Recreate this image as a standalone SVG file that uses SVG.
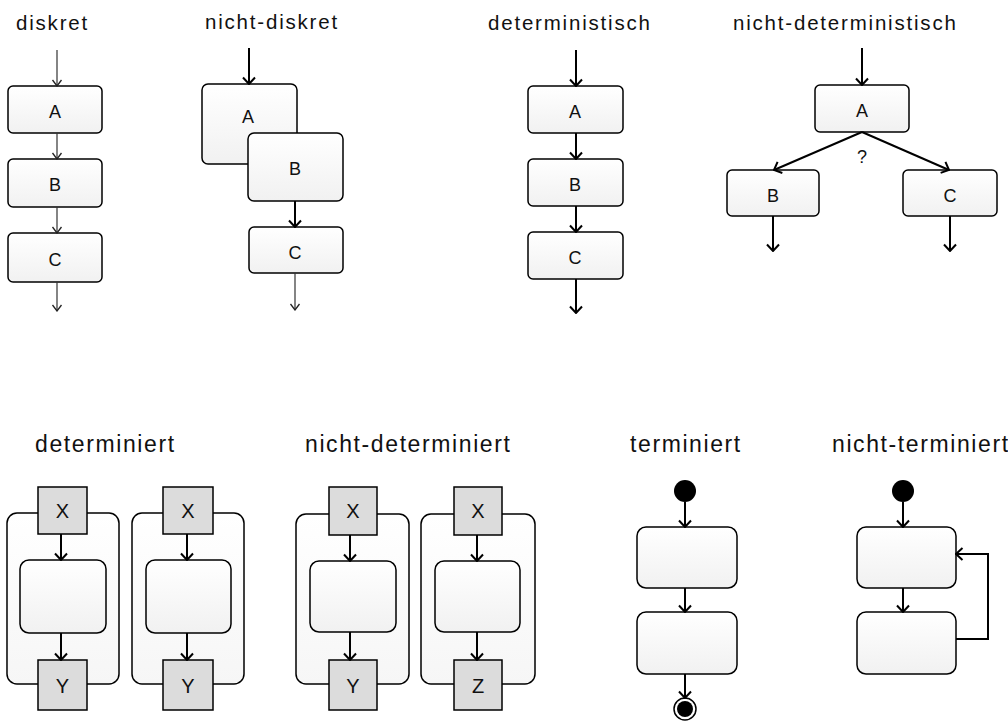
<svg xmlns="http://www.w3.org/2000/svg" width="1008" height="722" viewBox="0 0 1008 722">
  <defs>
    <linearGradient id="boxFill" x1="0" y1="0" x2="0" y2="1">
      <stop offset="0" stop-color="#ffffff"/>
      <stop offset="1" stop-color="#f1f1f1"/>
    </linearGradient>
    <linearGradient id="frameFill" x1="0" y1="0" x2="0" y2="1">
      <stop offset="0" stop-color="#ffffff"/>
      <stop offset="1" stop-color="#f6f6f6"/>
    </linearGradient>
    <marker id="headBold" viewBox="0 0 14 14" refX="13" refY="7" markerWidth="14" markerHeight="14" markerUnits="userSpaceOnUse" orient="auto">
      <path d="M6.5,1 L13,7 L6.5,13" fill="none" stroke="#000" stroke-width="2"/>
    </marker>
    <marker id="headThin" viewBox="0 0 12 12" refX="11.5" refY="6" markerWidth="12" markerHeight="12" markerUnits="userSpaceOnUse" orient="auto">
      <path d="M5.5,1.5 L11.5,6 L5.5,10.5" fill="none" stroke="#222" stroke-width="1.3"/>
    </marker>
  </defs>
  <style>
    .title { font-family: "Liberation Sans", Arial, sans-serif; font-size: 20.5px; letter-spacing: 1.8px; fill: #111; }
    .title2 { font-family: "Liberation Sans", Arial, sans-serif; font-size: 23px; letter-spacing: 1.6px; fill: #111; }
    .lbl { font-family: "Liberation Sans", Arial, sans-serif; font-size: 18px; fill: #111; text-anchor: middle; }
    .lbl2 { font-family: "Liberation Sans", Arial, sans-serif; font-size: 20px; fill: #111; text-anchor: middle; }
    .box { fill: url(#boxFill); stroke: #000; stroke-width: 1.5; }
    .frame { fill: url(#frameFill); stroke: #000; stroke-width: 1.5; }
    .port { fill: #dcdcdc; stroke: #000; stroke-width: 1.5; }
    .bold { fill: none; stroke: #000; stroke-width: 2; marker-end: url(#headBold); }
    .thin { fill: none; stroke: #333; stroke-width: 1.2; marker-end: url(#headThin); }
  </style>

  <!-- column titles -->
  <g id="titles">
    <text class="title" x="16" y="30">diskret</text>
    <text class="title" x="205" y="29">nicht-diskret</text>
    <text class="title" x="488" y="30">deterministisch</text>
    <text class="title" x="733" y="30">nicht-deterministisch</text>
    <text class="title2" x="35" y="452">determiniert</text>
    <text class="title2" x="305" y="452">nicht-determiniert</text>
    <text class="title2" x="630" y="452">terminiert</text>
    <text class="title2" x="832" y="452">nicht-terminiert</text>
  </g>

  <!-- diskret -->
  <g id="diskret-A"><rect class="box" x="8" y="86" width="94" height="47" rx="5"/><text class="lbl" x="55" y="118">A</text></g>
  <g id="diskret-B"><rect class="box" x="8" y="159" width="94" height="48" rx="5"/><text class="lbl" x="55" y="191">B</text></g>
  <g id="diskret-C"><rect class="box" x="8" y="233" width="94" height="49" rx="5"/><text class="lbl" x="55" y="266">C</text></g>

  <!-- nicht-diskret: A and B overlap -->
  <g id="nd-A"><rect class="box" x="202" y="84" width="95" height="80" rx="6"/><text class="lbl" x="248" y="123">A</text></g>
  <g id="nd-B"><rect class="box" x="248" y="133" width="95" height="68" rx="6"/><text class="lbl" x="295" y="175">B</text></g>
  <g id="nd-C"><rect class="box" x="249" y="227" width="94" height="46" rx="5"/><text class="lbl" x="295" y="259">C</text></g>

  <!-- deterministisch -->
  <g id="det-A"><rect class="box" x="528" y="86" width="95" height="47" rx="5"/><text class="lbl" x="575" y="118">A</text></g>
  <g id="det-B"><rect class="box" x="528" y="159" width="95" height="47" rx="5"/><text class="lbl" x="575" y="191">B</text></g>
  <g id="det-C"><rect class="box" x="528" y="232" width="95" height="47" rx="5"/><text class="lbl" x="575" y="264">C</text></g>

  <!-- nicht-deterministisch -->
  <g id="ndet-A"><rect class="box" x="815" y="85" width="94" height="47" rx="5"/><text class="lbl" x="862" y="117">A</text></g>
  <g id="ndet-B"><rect class="box" x="727" y="170" width="92" height="46" rx="5"/><text class="lbl" x="773" y="202">B</text></g>
  <g id="ndet-C"><rect class="box" x="903" y="170" width="94" height="46" rx="5"/><text class="lbl" x="950" y="202">C</text></g>
  <text class="lbl" x="862" y="163" font-size="17">?</text>

  <!-- determiniert -->
  <g id="dt1">
    <rect class="frame" x="7" y="513" width="112" height="171" rx="10"/>
    <rect class="box" x="20" y="560" width="86" height="73" rx="9"/>
    <rect class="port" x="38" y="487" width="49" height="47"/><text class="lbl2" x="62.5" y="518">X</text>
    <rect class="port" x="38" y="660" width="49" height="50"/><text class="lbl2" x="62.5" y="693">Y</text>
  </g>
  <g id="dt2">
    <rect class="frame" x="132" y="513" width="112" height="171" rx="10"/>
    <rect class="box" x="146" y="560" width="85" height="73" rx="9"/>
    <rect class="port" x="163" y="487" width="50" height="47"/><text class="lbl2" x="188" y="518">X</text>
    <rect class="port" x="163" y="660" width="50" height="50"/><text class="lbl2" x="188" y="693">Y</text>
  </g>

  <!-- nicht-determiniert -->
  <g id="ndt1">
    <rect class="frame" x="296" y="514" width="113" height="170" rx="10"/>
    <rect class="box" x="310" y="561" width="86" height="71" rx="9"/>
    <rect class="port" x="329" y="487" width="48" height="48"/><text class="lbl2" x="353" y="518">X</text>
    <rect class="port" x="329" y="660" width="48" height="50"/><text class="lbl2" x="353" y="693">Y</text>
  </g>
  <g id="ndt2">
    <rect class="frame" x="421" y="514" width="114" height="170" rx="10"/>
    <rect class="box" x="435" y="561" width="85" height="71" rx="9"/>
    <rect class="port" x="454" y="487" width="48" height="48"/><text class="lbl2" x="478" y="518">X</text>
    <rect class="port" x="454" y="660" width="48" height="50"/><text class="lbl2" x="478" y="693">Z</text>
  </g>

  <!-- terminiert -->
  <g id="t-start"><circle cx="685" cy="491" r="11" fill="#000"/></g>
  <g id="t-1"><rect class="box" x="637" y="527" width="100" height="61" rx="9"/></g>
  <g id="t-2"><rect class="box" x="637" y="612" width="100" height="62" rx="9"/></g>
  <g id="t-end">
    <circle cx="685" cy="709" r="11" fill="#fff" stroke="#000" stroke-width="1.5"/>
    <circle cx="685" cy="709" r="8" fill="#000"/>
  </g>

  <!-- nicht-terminiert -->
  <g id="nt-start"><circle cx="903" cy="491" r="11" fill="#000"/></g>
  <g id="nt-1"><rect class="box" x="857" y="527" width="99" height="61" rx="9"/></g>
  <g id="nt-2"><rect class="box" x="857" y="612" width="99" height="62" rx="9"/></g>

  <!-- connectors -->
  <g id="connectors">
    <line class="thin" x1="57" y1="50" x2="57" y2="86"/>
    <line class="thin" x1="57" y1="133" x2="57" y2="159"/>
    <line class="thin" x1="57" y1="207" x2="57" y2="233"/>
    <line class="thin" x1="57" y1="282" x2="57" y2="311"/>

    <line class="bold" x1="249" y1="48" x2="249" y2="84"/>
    <line class="bold" x1="295" y1="201" x2="295" y2="227"/>
    <line class="thin" x1="295" y1="273" x2="295" y2="310"/>

    <line class="bold" x1="576" y1="50" x2="576" y2="86"/>
    <line class="bold" x1="576" y1="133" x2="576" y2="159"/>
    <line class="bold" x1="576" y1="206" x2="576" y2="232"/>
    <line class="bold" x1="576" y1="279" x2="576" y2="313"/>

    <line class="bold" x1="862" y1="48" x2="862" y2="85"/>
    <line class="bold" x1="862" y1="132" x2="774" y2="170"/>
    <line class="bold" x1="862" y1="132" x2="949" y2="170"/>
    <line class="bold" x1="773" y1="216" x2="773" y2="251"/>
    <line class="bold" x1="950" y1="216" x2="950" y2="251"/>

    <line class="bold" x1="61" y1="534" x2="61" y2="560"/>
    <line class="bold" x1="61" y1="633" x2="61" y2="660"/>
    <line class="bold" x1="187" y1="534" x2="187" y2="560"/>
    <line class="bold" x1="187" y1="633" x2="187" y2="660"/>
    <line class="bold" x1="350" y1="535" x2="350" y2="561"/>
    <line class="bold" x1="350" y1="632" x2="350" y2="660"/>
    <line class="bold" x1="477" y1="535" x2="477" y2="561"/>
    <line class="bold" x1="477" y1="632" x2="477" y2="660"/>

    <line class="bold" x1="685" y1="502" x2="685" y2="527"/>
    <line class="bold" x1="685" y1="588" x2="685" y2="612"/>
    <line class="bold" x1="685" y1="674" x2="685" y2="698"/>

    <line class="bold" x1="903" y1="502" x2="903" y2="527"/>
    <line class="bold" x1="903" y1="588" x2="903" y2="612"/>
    <polyline class="bold" points="956,639 988,639 988,554 956,554"/>
  </g>
</svg>
